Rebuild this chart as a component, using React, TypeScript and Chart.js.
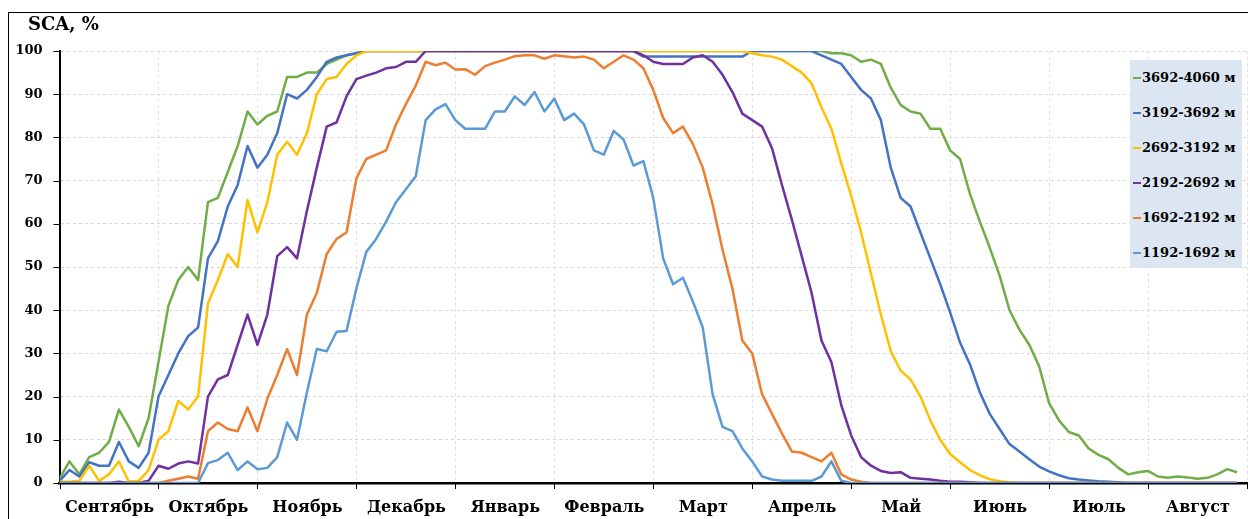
import React, { useEffect, useRef } from 'react';
import { Chart, registerables } from 'chart.js';

Chart.register(...registerables);

const MONTHS = ['Сентябрь', 'Октябрь', 'Ноябрь', 'Декабрь', 'Январь', 'Февраль', 'Март', 'Апрель', 'Май', 'Июнь', 'Июль', 'Август'];
const Y_TICKS = [0, 10, 20, 30, 40, 50, 60, 70, 80, 90, 100];
const SERIES_NAMES = ['3692-4060 м', '3192-3692 м', '2692-3192 м', '2192-2692 м', '1692-2192 м', '1192-1692 м'];
const COLORS = ['#70ad47', '#4472c4', '#ffc000', '#7030a0', '#ed7d31', '#5b9bd5'];
// sample step along the x axis, in months
const STEP = 0.1;

const S3692 = [
  1, 5, 2, 6, 7, 9.5, 17, 13, 8.5, 15,
  28, 41, 47, 50, 47, 65, 66, 72, 78, 86,
  83, 85, 86, 94, 94, 95, 95, 97, 98, 99,
  99.5, 100, 100, 100, 100, 100, 100, 100, 100, 100,
  100, 100, 100, 100, 100, 100, 100, 100, 100, 100,
  100, 100, 100, 100, 100, 100, 100, 100, 100, 100,
  100, 100, 100, 100, 100, 100, 100, 100, 100, 100,
  100, 100, 100, 100, 100, 100, 100, 100, 99.5, 99.5,
  99, 97.5, 98, 97, 91.5, 87.5, 86, 85.5, 82, 82,
  77, 75, 67, 60.5, 54.5, 48, 40, 35.5, 32, 27,
  18.5, 14.5, 11.8, 11, 8, 6.5, 5.5, 3.5, 2, 2.5,
  2.8, 1.5, 1.2, 1.5, 1.3, 1, 1.2, 2, 3.2, 2.5,
];
const S3192 = [
  0.5, 3, 1.5, 4.8, 4, 4, 9.5, 5, 3.5, 7,
  20, 25, 30, 34, 36, 52, 56, 64, 69, 78,
  73, 76, 81, 90, 89, 91, 94, 97.5, 98.5, 99,
  99.5, 100, 100, 100, 100, 100, 100, 100, 100, 100,
  100, 100, 100, 100, 100, 100, 100, 100, 100, 100,
  100, 100, 100, 100, 100, 100, 100, 100, 100, 98.7,
  98.7, 98.7, 98.7, 98.7, 98.7, 98.7, 98.7, 98.7, 98.7, 98.7,
  100, 100, 100, 100, 100, 100, 100, 99, 98, 97,
  94, 91, 89, 84, 73, 66, 64, 58, 52, 46,
  39.5, 32.5, 27.5, 21, 16, 12.5, 9, 7.3, 5.5, 3.8,
  2.7, 1.8, 1.1, 0.8, 0.6, 0.4, 0.3, 0.2, 0, 0,
  0, 0, 0, 0, 0, 0, 0, 0, 0, 0,
];
const S2692 = [
  0.3, 0.3, 0.5, 4, 0.5, 2, 5, 0.3, 0.5, 3,
  10, 12, 19, 17, 20, 41.6, 47, 53, 50, 65.5,
  58, 65, 76, 79, 76, 81, 90, 93.5, 94, 97,
  99, 100, 100, 100, 100, 100, 100, 100, 100, 100,
  100, 100, 100, 100, 100, 100, 100, 100, 100, 100,
  100, 100, 100, 100, 100, 100, 100, 100, 100, 100,
  100, 100, 100, 100, 100, 100, 100, 100, 100, 100,
  99.5, 99, 98.7, 98, 96.5, 95, 92.5, 87, 82, 74,
  66.5, 58, 48.5, 39, 30.5, 26, 24, 20, 14.5, 10,
  6.7, 4.8, 3, 1.8, 0.9, 0.4, 0.2, 0, 0, 0,
  0, 0, 0, 0, 0, 0, 0, 0, 0, 0,
  0, 0, 0, 0, 0, 0, 0, 0, 0, 0,
];
const S2192 = [
  0, 0, 0, 0, 0, 0, 0.3, 0, 0, 0.5,
  4, 3.3, 4.5, 5, 4.5, 20, 24, 25, 32, 39,
  32, 39, 52.5, 54.6, 52, 63, 73, 82.5, 83.5, 89.5,
  93.5, 94.3, 95, 96, 96.3, 97.5, 97.5, 100, 100, 100,
  100, 100, 100, 100, 100, 100, 100, 100, 100, 100,
  100, 100, 100, 100, 100, 100, 100, 100, 100, 99,
  97.5, 97, 97, 97, 98.5, 99, 97.5, 94.5, 90.5, 85.5,
  84, 82.5, 77.5, 69, 61, 52.5, 44, 33, 28, 18,
  11, 6, 4, 2.8, 2.3, 2.5, 1.2, 1, 0.8, 0.5,
  0.3, 0.3, 0.2, 0, 0, 0, 0, 0, 0, 0,
  0, 0, 0, 0, 0, 0, 0, 0, 0, 0,
  0, 0, 0, 0, 0, 0, 0, 0, 0, 0,
];
const S1692 = [
  0, 0, 0, 0, 0, 0, 0, 0, 0, 0,
  0, 0.5, 1, 1.5, 1, 12, 14, 12.5, 12, 17.5,
  12, 19.5, 25, 31, 25, 39, 44, 53, 56.5, 58,
  70.5, 75, 76, 77, 83, 87.7, 92, 97.5, 96.7, 97.3,
  95.7, 95.8, 94.5, 96.5, 97.3, 98, 98.8, 99, 99, 98.2,
  99, 98.8, 98.5, 98.7, 98, 96, 97.5, 99, 98, 96,
  91, 84.5, 81, 82.5, 78.5, 73, 64.5, 54, 45, 33,
  30, 20.5, 16, 11.5, 7.3, 7, 6, 5, 7, 2,
  0.8, 0.3, 0, 0, 0, 0, 0, 0, 0, 0,
  0, 0, 0, 0, 0, 0, 0, 0, 0, 0,
  0, 0, 0, 0, 0, 0, 0, 0, 0, 0,
  0, 0, 0, 0, 0, 0, 0, 0, 0, 0,
];
const S1192 = [
  0, 0, 0, 0, 0, 0, 0, 0, 0, 0,
  0, 0, 0, 0, 0, 4.6, 5.3, 7, 3, 5,
  3.2, 3.5, 6, 14, 10, 21, 31, 30.5, 35, 35.2,
  45, 53.5, 56.5, 60.5, 65, 68, 71, 84, 86.5, 87.7,
  84, 82, 82, 82, 86, 86, 89.5, 87.5, 90.5, 86,
  89, 84, 85.5, 83, 77, 76, 81.5, 79.5, 73.5, 74.5,
  66, 52, 46, 47.5, 42, 36, 20.5, 13, 12, 8,
  5, 1.5, 0.8, 0.5, 0.5, 0.5, 0.5, 1.5, 5, 0.5,
  0, 0, 0, 0, 0, 0, 0, 0, 0, 0,
  0, 0, 0, 0, 0, 0, 0, 0, 0, 0,
  0, 0, 0, 0, 0, 0, 0, 0, 0, 0,
  0, 0, 0, 0, 0, 0, 0, 0, 0, 0,
];

const SERIES = [S3692, S3192, S2692, S2192, S1692, S1192];
const FONT = "'DejaVu Serif', serif";

export default function App() {
  const ref = useRef<HTMLCanvasElement>(null);

  useEffect(() => {
    if (!ref.current) return;
    const tickMarks = {
      id: 'tickMarks',
      afterDraw(chart: any) {
        const { ctx, chartArea, scales } = chart;
        ctx.save();
        ctx.strokeStyle = '#000';
        ctx.lineWidth = 1;
        ctx.beginPath();
        Y_TICKS.forEach((v) => {
          const y = Math.round(scales.y.getPixelForValue(v)) + 0.5;
          ctx.moveTo(chartArea.left - 6, y);
          ctx.lineTo(chartArea.left, y);
        });
        for (let m = 0; m <= MONTHS.length; m++) {
          const x = Math.round(scales.x.getPixelForValue(m)) + 0.5;
          ctx.moveTo(x, chartArea.bottom);
          ctx.lineTo(x, chartArea.bottom + 6);
        }
        ctx.stroke();
        ctx.restore();
      },
    };

    const chart = new Chart(ref.current, {
      type: 'line',
      data: {
        datasets: SERIES.map((arr, k) => ({
          label: SERIES_NAMES[k],
          data: arr.map((v, i) => ({ x: i * STEP, y: v })),
          borderColor: COLORS[k],
          backgroundColor: COLORS[k],
          borderWidth: 2.5,
          pointRadius: 0,
          tension: 0,
          borderJoinStyle: 'round' as const,
          order: SERIES.length - 1 - k,
        })),
      },
      options: {
        responsive: false,
        animation: false,
        layout: { padding: { left: 0, right: 7, top: 51, bottom: 0 } },
        plugins: { legend: { display: false }, tooltip: { enabled: false }, title: { display: false } },
        scales: {
          x: {
            type: 'linear',
            min: 0,
            max: MONTHS.length,
            afterFit: (s: any) => { s.height = 36; },
            ticks: {
              stepSize: 1,
              autoSkip: false,
              maxRotation: 0,
              labelOffset: 50,
              padding: 15,
              color: '#000',
              font: { family: FONT, size: 16, weight: 'bold' },
              callback: (v: any) => MONTHS[v as number] ?? '',
            },
            grid: { color: '#e2e2e2', lineWidth: 1, drawTicks: false },
            border: { display: true, color: '#000', width: 2.5, dash: [3, 3] },
          },
          y: {
            type: 'linear',
            min: 0,
            max: 100,
            afterFit: (s: any) => { s.width = 55; },
            ticks: {
              stepSize: 10,
              padding: 17,
              color: '#000',
              font: { family: FONT, size: 13, weight: 'bold' },
            },
            grid: { color: '#d6d6d6', lineWidth: 1, drawTicks: false },
            border: { display: true, color: '#000', width: 2, dash: [3, 3] },
          },
        },
      },
      plugins: [tickMarks],
    });
    return () => chart.destroy();
  }, []);

  return (
    <div style={{ position: 'fixed', left: 0, top: 0, width: 1248, height: 519, overflow: 'hidden', background: '#fff' }}>
      <div style={{ position: 'absolute', left: 8, top: 12, width: 1300, height: 600, border: '1px solid #000' }} />
      <canvas ref={ref} width={1262} height={519} style={{ position: 'absolute', left: 0, top: 0, width: 1262, height: 519 }} />
      <div style={{ position: 'absolute', left: 28, top: 14, fontFamily: FONT, fontWeight: 'bold', fontSize: 18, lineHeight: '20px', color: '#000' }}>
        SCA, %
      </div>
      <div style={{ position: 'absolute', left: 1130, top: 60, width: 112, height: 208, background: '#dce6f2' }}>
        {SERIES_NAMES.map((name, k) => (
          <div
            key={name}
            style={{
              position: 'absolute',
              left: 3,
              top: 10 + 35 * k,
              height: 16,
              lineHeight: '16px',
              whiteSpace: 'nowrap',
              fontFamily: FONT,
              fontWeight: 'bold',
              fontSize: 13,
              color: '#000',
              display: 'flex',
              alignItems: 'center',
            }}
          >
            <span style={{ display: 'inline-block', width: 8, height: 2.5, background: COLORS[k], marginRight: 1 }} />
            <span>{name}</span>
          </div>
        ))}
      </div>
    </div>
  );
}
